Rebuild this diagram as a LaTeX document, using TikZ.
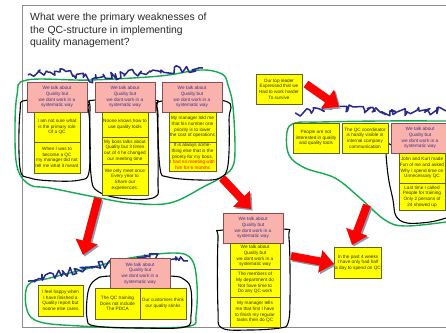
\documentclass[tikz,border=0pt]{standalone}
\usepackage{fontspec}
\setmainfont{Liberation Sans}
\usetikzlibrary{arrows.meta,decorations.pathmorphing}
\definecolor{pinkfill}{RGB}{250,178,172}
\definecolor{pinkline}{RGB}{130,80,80}
\definecolor{pinktext}{RGB}{60,50,130}
\definecolor{yelfill}{RGB}{255,255,0}
\definecolor{yelline}{RGB}{100,100,20}
\definecolor{yeltext}{RGB}{50,50,10}
\definecolor{loopgreen}{RGB}{20,170,80}
\definecolor{scribblue}{RGB}{40,40,140}
\definecolor{framegray}{RGB}{140,140,140}
\definecolor{shadowgray}{RGB}{140,155,170}
\definecolor{titlegray}{RGB}{40,40,40}
\begin{document}
\begin{tikzpicture}[x=1pt,y=-1pt,
  boxbase/.style={draw, line width=0.6pt, inner sep=0.4pt, align=center,
    font=\fontsize{4.7}{5.6}\selectfont},
  pinkbox/.style={boxbase, fill=pinkfill, draw=pinkline, text=pinktext},
  yelbox/.style={boxbase, fill=yelfill, draw=yelline, text=yeltext},
  greenloop/.style={draw=loopgreen, line width=1.4pt},
  blackloop/.style={draw=black, line width=1.1pt},
  scrib/.style={draw=scribblue, line width=1.5pt, line join=round,
    decorate, decoration={random steps, segment length=2.4pt, amplitude=4pt}},
  arrbody/.style={line width=8pt, -{Triangle[width=22pt,length=14pt]}},
  redarr/.style={arrbody, draw=red},
  shadarr/.style={arrbody, draw=shadowgray},
  titlestyle/.style={inner sep=0pt, align=left, text=titlegray,
    font=\fontsize{10.4}{12.8}\selectfont}
]
\pgfmathsetseed{7}
\useasboundingbox (0,0) rectangle (446,332);
% slide frame
\draw[framegray, line width=1pt] (446,5) -- (22,5) -- (22,327) -- (446,327);
% title
\node[titlestyle, anchor=north west] (title) at (30,12.5)
  {What were the primary weaknesses of\\the QC-structure in implementing\\quality management?};

% green loops
\draw[greenloop] plot[smooth cycle, tension=0.6] coordinates {(27,80) (90,80) (160,76) (200,70) (222,74) (228,85) (233,107) (235,150) (232,168) (220,178) (205,186) (170,203) (130,203) (95,197) (50,188) (30,185) (18,170) (15,140) (17,95)};
\draw[greenloop] plot[smooth, tension=0.6] coordinates {(446,121) (380,121) (320,122) (295,123) (287,132) (289,155) (305,168) (335,178) (360,198) (385,220) (405,226) (446,222)};
\draw[greenloop] plot[smooth cycle, tension=0.6] coordinates {(28,285) (50,278) (90,268) (130,258) (175,253) (192,260) (197,285) (196,315) (190,326) (140,328) (80,326) (40,322) (27,310)};

% black loops
\draw[blackloop] plot[smooth cycle, tension=0.6] coordinates {(28,100) (20,112) (20,168) (30,178) (55,181) (80,180) (89,172) (90,130) (88,108) (84,101)};
\draw[blackloop] plot[smooth cycle, tension=0.6] coordinates {(95,100) (90,110) (91,175) (99,192) (127,199) (155,197) (158,180) (157,110) (152,100)};
\draw[blackloop] plot[smooth cycle, tension=0.6] coordinates {(162,101) (158,115) (160,168) (168,177) (200,180) (220,178) (228,165) (229,120) (225,101)};
\draw[blackloop] plot[smooth cycle, tension=0.6] coordinates {(110,276) (95,280) (88,292) (87,318) (95,326) (140,328) (185,327) (191,315) (191,290) (185,280) (170,276)};
\draw[blackloop] plot[smooth cycle, tension=0.6] coordinates {(283,229) (289,238) (290,300) (288,323) (280,328) (250,330) (222,328) (218,310) (218,240) (223,230)};
\draw[blackloop] plot[smooth, tension=0.6] coordinates {(391,145) (386,146) (388,175) (393,200) (396,216) (407,223) (430,222) (446,218)};

% scribbles
\draw[scrib] (28,75) -- (60,72) -- (92,79) -- (150,71) -- (203,68);
\draw[scrib] (297,114) -- (338,107) -- (380,112) -- (446,111);
\draw[scrib] (28,281) -- (90,267) -- (150,257) -- (188,261);

% group 1
\node[pinkbox, minimum width=60pt, minimum height=30pt] (p1) at (57,97) {We talk about\\Quality but\\we dont work in a\\systematic way};
\node[yelbox, minimum width=46pt, minimum height=30pt] (y1a) at (57,127) {I am not sure what\\is the primary role\\Of a QC};
\node[yelbox, minimum width=46pt, minimum height=31pt] (y1b) at (57,157.5) {When I was to\\become a QC\\my manager did not\\tell me what it meant};
\node[pinkbox, minimum width=60pt, minimum height=30pt] (p2) at (125,97) {We talk about\\Quality but\\we dont work in a\\systematic way};
\node[yelbox, minimum width=46pt, minimum height=25pt] (y2a) at (125,124.5) {Noone knows how to\\use quality tools};
\node[yelbox, minimum width=46pt, minimum height=27pt] (y2b) at (125,150.5) {My boss talks about\\Quality but 3 times\\out of 4 he changed\\our meeting time};
\node[yelbox, minimum width=46pt, minimum height=31pt] (y2c) at (125,179.5) {We only meet once\\Every year to\\Share our\\experiences.};
\node[pinkbox, minimum width=60pt, minimum height=30pt] (p3) at (192,97) {We talk about\\Quality but\\we dont work in a\\systematic way};
\node[yelbox, minimum width=47pt, minimum height=30pt] (y3a) at (192.5,127) {My manager  told me\\that his number one\\priority is to lower\\the cost of operations};
\node[yelbox, minimum width=47pt, minimum height=29pt] (y3b) at (192.5,156.5) {It is always some-\\thing else that is the\\priority for my boss.\\\textcolor{red}{I had no meeting with}\\\textcolor{red}{him for 6 months}};

% top leader
\node[yelbox, minimum width=46pt, minimum height=30pt] (lead) at (279,89) {Our top leader\\Expressed that we\\Had to work harder\\To survive};

% group 2
\node[yelbox, minimum width=46pt, minimum height=30pt] (g2a) at (316,138) {People are not\\interested in quality\\and quality tools};
\node[yelbox, minimum width=46pt, minimum height=30pt] (g2b) at (365,138) {The QC coordinator\\is hardly visible in\\internal company\\communication};
\node[pinkbox, minimum width=58pt, minimum height=30pt] (g2p) at (420,138) {We talk about\\Quality but\\we dont work in a\\systematic way};
\node[yelbox, minimum width=46pt, minimum height=30pt] (g2y1) at (422,168) {John and Kurt made\\Fun of me and asked\\Why I spend time on\\Unnecessary QC};
\node[yelbox, minimum width=46pt, minimum height=27pt] (g2y2) at (422,196.5) {Last time I called\\People for training\\Only 2 persons of\\24 showed up};

% group 3
\node[yelbox, minimum width=45pt, minimum height=31pt] (g3y) at (60.5,300.5) {I feel happy when\\I have finished a\\Quality report but\\noone else cares};
\node[pinkbox, minimum width=60pt, minimum height=31pt] (g3p) at (140,273.5) {We talk about\\Quality but\\we dont work in a\\systematic way};
\node[yelbox, minimum width=45pt, minimum height=31pt] (g3a) at (117.5,303.5) {The QC training\\Does not include\\The PDCA};
\node[yelbox, minimum width=46pt, minimum height=31pt] (g3b) at (163,303.5) {Our customers think\\our quality stinks};

% middle column
\node[pinkbox, minimum width=60pt, minimum height=30pt] (mp) at (253,228) {We talk about\\Quality but\\we dont work in a\\systematic way};
\node[yelbox, minimum width=50pt, minimum height=26pt] (my1) at (255,256) {We talk about\\Quality but\\we dont work in a\\systematic way};
\node[yelbox, minimum width=50pt, minimum height=28pt] (my2) at (255,283) {The members of\\My department do\\Not have time to\\Do any QC work};
\node[yelbox, minimum width=50pt, minimum height=30pt] (my3) at (255,312) {My manager tells\\me that first I have\\to finish my regular\\tasks then do QC};

% past 4 weeks
\node[yelbox, minimum width=46pt, minimum height=31pt] (past) at (358,262.5) {In the past 4 weeks\\I have only had half\\a day to spend on QC};

% arrows
\coordinate (a1s) at (98,198);  \coordinate (a1e) at (83,255);
\coordinate (a2s) at (222,178); \coordinate (a2e) at (251,209);
\coordinate (a3s) at (306,84);  \coordinate (a3e) at (339,107);
\coordinate (a4s) at (291,256); \coordinate (a4e) at (334,264);
\coordinate (a5s) at (367,205); \coordinate (a5e) at (352,245);
\foreach \s/\e in {a1s/a1e,a2s/a2e,a3s/a3e,a4s/a4e,a5s/a5e}{
  \draw[shadarr] ([shift={(1.6,1.6)}]\s) -- ([shift={(1.6,1.6)}]\e);
  \draw[redarr] (\s) -- (\e);
}
\end{tikzpicture}
\end{document}
